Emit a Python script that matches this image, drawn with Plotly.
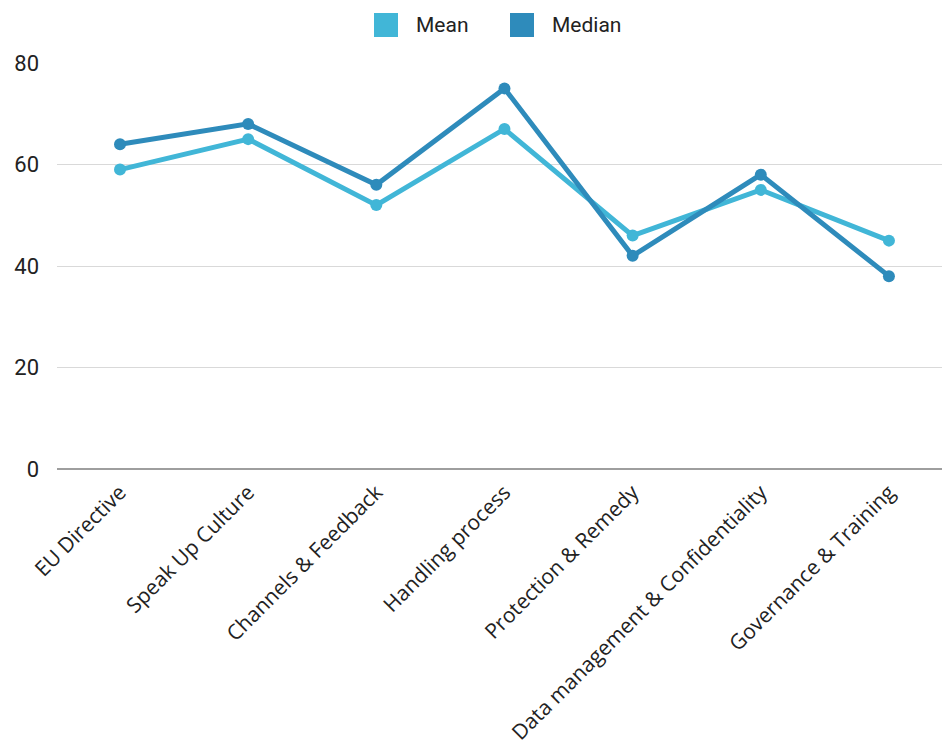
import plotly.graph_objects as go

categories = [
    "EU Directive",
    "Speak Up Culture",
    "Channels & Feedback",
    "Handling process",
    "Protection & Remedy",
    "Data management & Confidentiality",
    "Governance & Training",
]
mean_values = [59, 65, 52, 67, 46, 55, 45]
median_values = [64, 68, 56, 75, 42, 58, 38]
y_ticks = [0, 20, 40, 60, 80]

MEAN_COLOR = "#41b6d7"
MEDIAN_COLOR = "#2e8bbb"

W, H = 942, 745
ML, MR, MT, MB = 57, 0, 63, 276
plot_w = W - ML - MR
plot_h = H - MT - MB

fig = go.Figure()
fig.add_trace(go.Scatter(
    x=list(range(len(categories))), y=mean_values, name="Mean",
    mode="lines+markers",
    line=dict(color=MEAN_COLOR, width=5),
    marker=dict(color=MEAN_COLOR, size=12),
    showlegend=False,
))
fig.add_trace(go.Scatter(
    x=list(range(len(categories))), y=median_values, name="Median",
    mode="lines+markers",
    line=dict(color=MEDIAN_COLOR, width=5),
    marker=dict(color=MEDIAN_COLOR, size=12),
    showlegend=False,
))


def px_x(px):
    return (px - ML) / plot_w


def px_y(py):
    return (H - MB - py) / plot_h


# legend drawn as large colour squares with labels above the plot
legend_items = [("Mean", MEAN_COLOR, 374), ("Median", MEDIAN_COLOR, 510)]
shapes = []
annotations = []
for label, color, left in legend_items:
    shapes.append(dict(
        type="rect", xref="paper", yref="paper",
        x0=px_x(left), x1=px_x(left + 24), y0=px_y(37), y1=px_y(13),
        fillcolor=color, line=dict(width=0),
    ))
    annotations.append(dict(
        xref="paper", yref="paper", x=px_x(left + 40), y=px_y(25),
        text=label, showarrow=False, xanchor="left", yanchor="middle",
        font=dict(family="Roboto", size=21, color="#222222"),
    ))

fig.update_layout(
    width=W, height=H,
    margin=dict(l=ML, r=MR, t=MT, b=MB, pad=0),
    paper_bgcolor="white", plot_bgcolor="white",
    shapes=shapes, annotations=annotations,
    showlegend=False,
    xaxis=dict(
        range=[-0.4916, 6.414],
        tickmode="array",
        tickvals=list(range(len(categories))),
        ticktext=categories,
        tickangle=-45,
        tickfont=dict(family="Open Sans", size=21, color="#222222"),
        showgrid=False, zeroline=False, showline=False,
        ticks="", ticklabelstandoff=6, automargin=False,
    ),
    yaxis=dict(
        range=[0, 80],
        tickvals=y_ticks,
        tickfont=dict(family="Roboto", size=22, color="#222222"),
        showgrid=True, gridcolor="#d9d9d9", gridwidth=1,
        zeroline=True, zerolinecolor="#9e9e9e", zerolinewidth=2,
        showline=False, ticks="", ticklabelstandoff=17,
        automargin=False,
    ),
)

fig.write_html("out.html")
